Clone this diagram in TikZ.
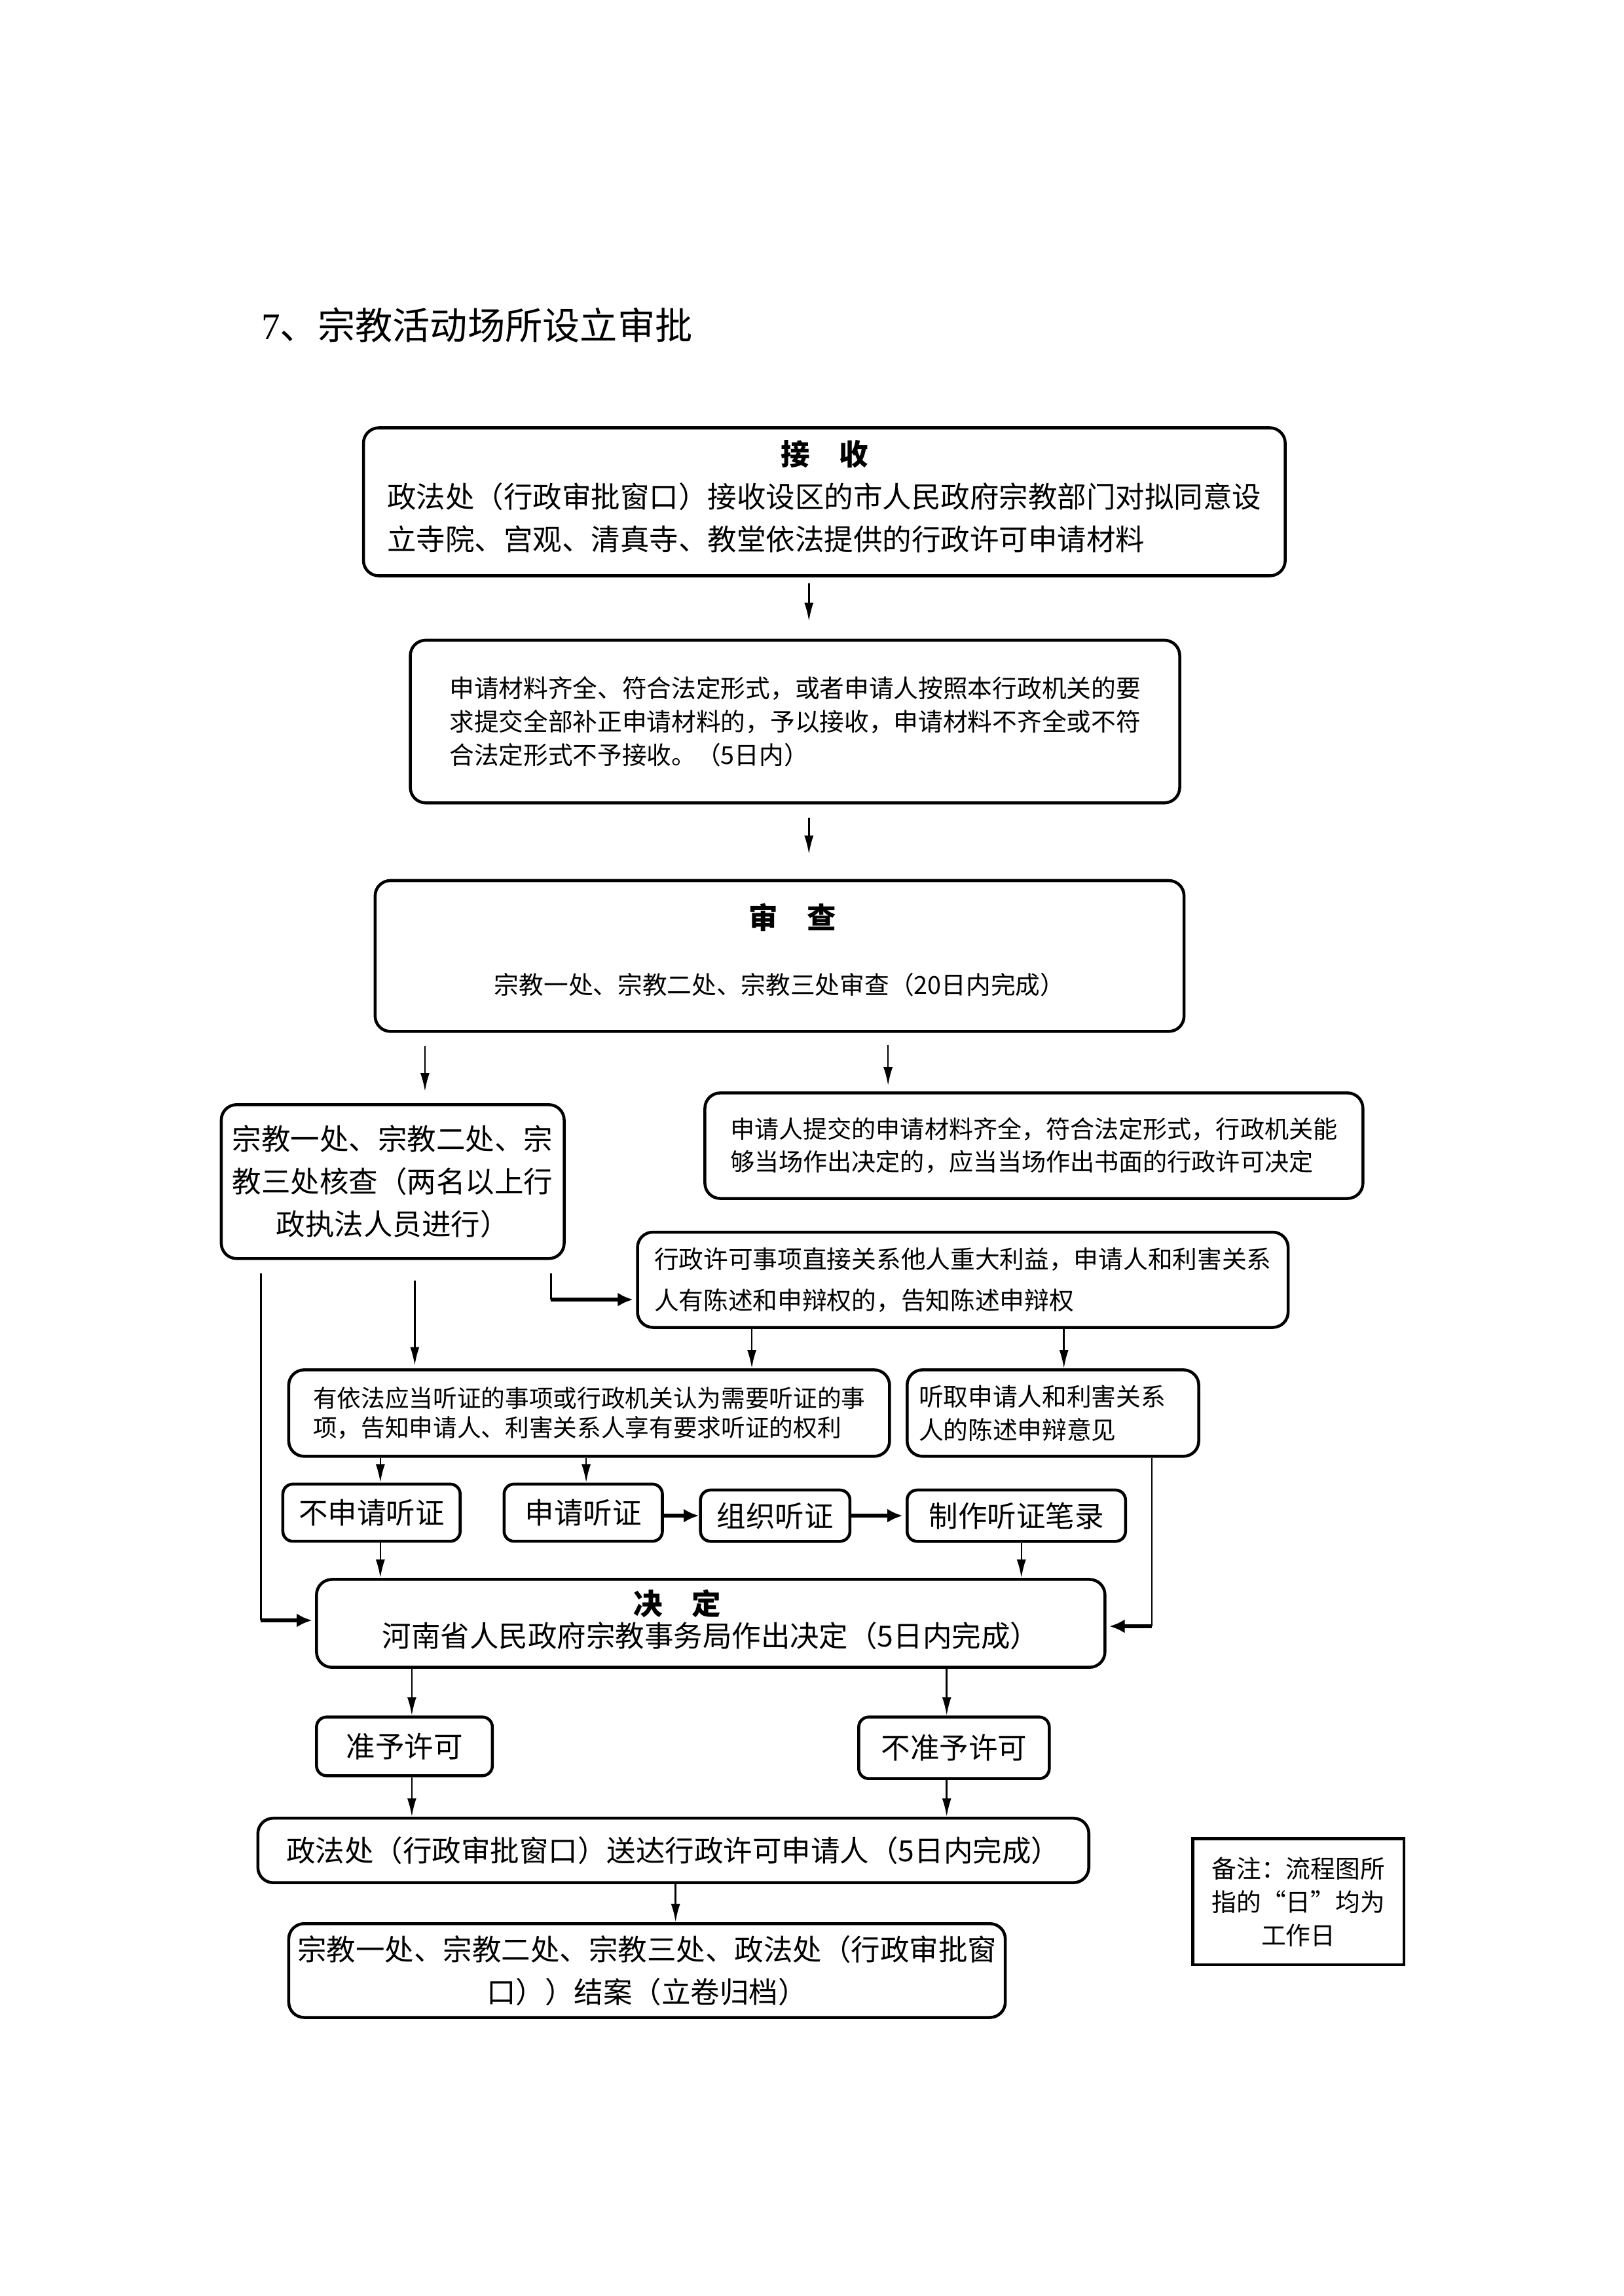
\documentclass[tikz,border=0pt]{standalone}
\usepackage{fontspec}
\setmainfont{Noto Sans CJK SC}
\newfontfamily\latinserif{Liberation Serif}
\usetikzlibrary{arrows.meta}

\newcommand\bigsz{\fontsize{10.8pt}{15.8pt}\selectfont}
\newcommand\smallsz{\fontsize{9.15pt}{12.4pt}\selectfont}
\newcommand\titlesz{\fontsize{13.9pt}{16pt}\selectfont}

\begin{document}
\begin{tikzpicture}[%
      x=1mm, y=-1mm,
      every node/.style={inner sep=0pt},
      box/.style={draw, rounded corners=2mm, line width=1.1pt, align=center, font=\bigsz},
      sbox/.style={box, rounded corners=1.3mm},
      note/.style={draw, line width=1.1pt, align=center, font=\smallsz},
      arr/.style={-{Latex[length=2.4mm,width=1.2mm]}, line width=0.6pt},
      fat/.style={-{Latex[length=2mm,width=1.8mm]}, line width=1.3pt}
    ]
    \useasboundingbox (0,0) rectangle (211.55,299.18);

    \node [anchor=west] (0) at (33.98,42.38) {\titlesz{\latinserif 7}、宗教活动场所设立审批};

    \node [box, minimum width=120.08mm, minimum height=19.28mm] (1) at (107.39,65.39)
      {{\bfseries 接\quad 收}\\\begin{tabular}[t]{@{}l@{}}政法处（行政审批窗口）接收设区的市人民政府宗教部门对拟同意设\\立寺院、宫观、清真寺、教堂依法提供的行政许可申请材料\end{tabular}};
    \node [box, align=left, font=\smallsz, minimum width=100.23mm, minimum height=21.19mm] (2) at (103.57,94.02)
      {申请材料齐全、符合法定形式，或者申请人按照本行政机关的要\\求提交全部补正申请材料的，予以接收，申请材料不齐全或不符\\合法定形式不予接收。（5日内）};
    \node [box, font=\smallsz, minimum width=105.38mm, minimum height=19.66mm] (3) at (101.56,124.57)
      {\hspace*{3.4mm}{\bigsz\bfseries 审\quad 查}\\[12pt]宗教一处、宗教二处、宗教三处审查（20日内完成）\\[-7pt]\mbox{}};

    \node [box, minimum width=44.67mm, minimum height=20.05mm] (31) at (51.16,153.97)
      {宗教一处、宗教二处、宗\\教三处核查（两名以上行\\政执法人员进行）};
    \node [box, align=left, font=\fontsize{9pt}{12.2pt}\selectfont, minimum width=85.72mm, minimum height=13.75mm] (32) at (134.69,149.29)
      {申请人提交的申请材料齐全，符合法定形式，行政机关能\\够当场作出决定的，应当当场作出书面的行政许可决定};
    \node [box, align=left, font=\smallsz, minimum width=84.76mm, minimum height=12.41mm] (4) at (125.43,166.76)
      {行政许可事项直接关系他人重大利益，申请人和利害关系\\[2.8pt]人有陈述和申辩权的，告知陈述申辩权};

    \node [box, align=left, font=\fontsize{8.9pt}{11pt}\selectfont, minimum width=78.27mm, minimum height=11.26mm] (41) at (76.75,184.13)
      {有依法应当听证的事项或行政机关认为需要听证的事\\项，告知申请人、利害关系人享有要求听证的权利};
    \node [box, align=left, font=\smallsz, minimum width=37.99mm, minimum height=11.26mm] (42) at (137.17,184.13)
      {听取申请人和利害关系\hspace*{2.8mm}\\人的陈述申辩意见};

    \node [sbox, minimum width=23.10mm, minimum height=7.45mm] (411) at (48.40,197.11) {不申请听证};
    \node [sbox, minimum width=20.62mm, minimum height=7.45mm] (412) at (75.98,197.11) {申请听证};
    \node [sbox, minimum width=19.47mm, minimum height=6.68mm] (413) at (100.99,197.50) {组织听证};
    \node [sbox, minimum width=28.45mm, minimum height=6.68mm] (414) at (132.40,197.50) {制作听证笔录};

    \node [box, minimum width=102.71mm, minimum height=11.45mm] (5) at (92.59,211.53)
      {{\bfseries 决\quad 定}\hspace*{8.8mm}\\[-3.8pt]河南省人民政府宗教事务局作出决定（5日内完成）\\[-11.9pt]\mbox{}};
    \node [sbox, minimum width=22.91mm, minimum height=7.64mm] (51) at (52.69,227.56) {准予许可};
    \node [sbox, minimum width=24.82mm, minimum height=8.02mm] (52) at (124.28,227.75) {不准予许可};
    \node [box, minimum width=108.25mm, minimum height=8.40mm] (6) at (87.72,241.12)
      {政法处（行政审批窗口）送达行政许可申请人（5日内完成）};
    \node [box, minimum width=93.35mm, minimum height=12.22mm] (7) at (84.29,256.77)
      {宗教一处、宗教二处、宗教三处、政法处（行政审批窗\\口））结案（立卷归档）};
    \node [note, minimum width=27.49mm, minimum height=16.42mm] (8) at (169.15,247.80)
      {备注：流程图所\\指的“日”均为\\工作日};

    % elbow corners
    \coordinate (k1) at (71.78,169.34);
    \coordinate (k2) at (33.98,211.14);
    \coordinate (k3) at (150.06,211.91);

    \draw [arr, shorten <=0.76mm, shorten >=2.29mm] (1.south -| 105.38,0) -- (2.north -| 105.38,0);
    \draw [arr, shorten <=1.72mm, shorten >=3.25mm] (2.south -| 105.38,0) -- (3.north -| 105.38,0);
    \draw [arr, shorten <=1.72mm, shorten >=1.53mm] (3.south -| 55.36,0) -- (31.north -| 55.36,0);
    \draw [arr, shorten <=1.53mm, shorten >=0.76mm] (3.south -| 115.69,0) -- (32.north -| 115.69,0);

    \draw [line width=0.6pt, shorten <=1.72mm] (31.south -| k1) -- (k1);
    \draw [fat, shorten >=0.38mm] (k1) -- (4.west |- k1);
    \draw [line width=0.6pt, shorten <=1.72mm] (31.south -| k2) -- (k2);
    \draw [fat, shorten >=0.38mm] (k2) -- (5.west |- k2);
    \draw [arr, shorten <=2.67mm, shorten >=0.38mm] (31.south -| 54.03,0) -- (41.north -| 54.03,0);

    \draw [arr] (4.south -| 97.94,0) -- (41.north -| 97.94,0);
    \draw [arr] (4.south -| 138.60,0) -- (42.north -| 138.60,0);
    \draw [arr] (41.south -| 49.55,0) -- (411.north -| 49.55,0);
    \draw [arr] (41.south -| 76.36,0) -- (412.north -| 76.36,0);
    \draw [line width=0.6pt] (42.south -| k3) -- (k3);
    \draw [fat, shorten >=0.38mm] (k3) -- (5.east |- k3);

    \draw [fat] (413.west -| 412.east) -- (413.west);
    \draw [fat, shorten >=0.38mm] (414.west -| 413.east) -- (414.west);
    \draw [arr] (411.south -| 49.55,0) -- (5.north -| 49.55,0);
    \draw [arr] (414.south -| 133.06,0) -- (5.north -| 133.06,0);

    \draw [arr] (5.south -| 53.65,0) -- (51.north -| 53.65,0);
    \draw [arr] (5.south -| 123.33,0) -- (52.north -| 123.33,0);
    \draw [arr] (51.south -| 53.65,0) -- (6.north -| 53.65,0);
    \draw [arr] (52.south -| 123.33,0) -- (6.north -| 123.33,0);
    \draw [arr] (6.south -| 88.01,0) -- (7.north -| 88.01,0);
\end{tikzpicture}
\end{document}
